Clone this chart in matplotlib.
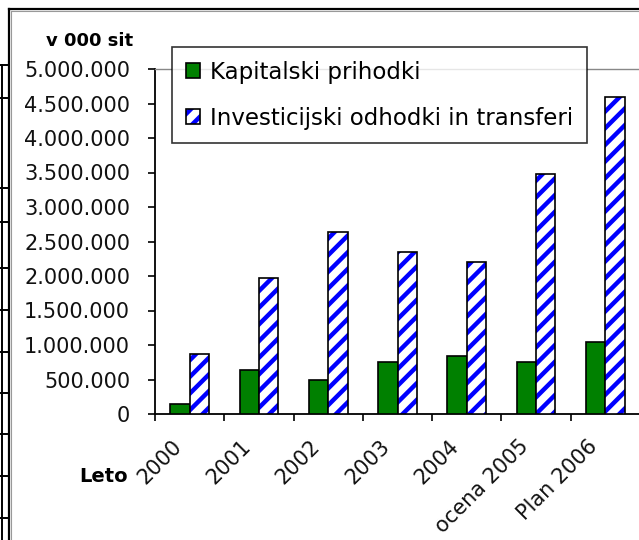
import matplotlib
matplotlib.use("Agg")
import matplotlib.pyplot as plt
from matplotlib.lines import Line2D
from matplotlib.legend_handler import HandlerTuple
import matplotlib.transforms as mtransforms
import numpy as np

# ---- data ----
categories = ["2000", "2001", "2002", "2003", "2004", "ocena 2005", "Plan 2006"]
kapitalski = [145000, 640000, 495000, 755000, 845000, 755000, 1045000]
investicijski = [870000, 1975000, 2640000, 2355000, 2205000, 3485000, 4590000]
series_names = ["Kapitalski prihodki", "Investicijski odhodki in transferi"]
y_ticks = list(range(0, 5000001, 500000))
unit_label = "v 000 sit"
x_title = "Leto"

plt.rcParams['font.family'] = ['DejaVu Sans']
plt.rcParams['hatch.linewidth'] = 3.2

W, H = 639, 540
fig = plt.figure(figsize=(W / 100, H / 100), dpi=100)
fig.patch.set_facecolor('white')

def fx(px):
    return px / W

def fy(py):
    return 1 - py / H

ax_left, ax_right, ax_top, ax_bottom = 155, 640, 69, 414
ax = fig.add_axes([fx(ax_left), fy(ax_bottom), fx(ax_right - ax_left), (ax_bottom - ax_top) / H])

x = np.arange(len(categories))
bw = 0.28
green = '#008000'
blue = '#0000FF'

b1 = ax.bar(x - 0.14, kapitalski, width=bw, color=green, edgecolor='black', linewidth=1.2, zorder=3)
b2 = ax.bar(x + 0.14, investicijski, width=bw, color='white', edgecolor=blue, hatch='//', linewidth=0, zorder=3)
b3 = ax.bar(x + 0.14, investicijski, width=bw, fill=False, edgecolor='black', linewidth=1.2, zorder=4)

ax.set_xlim(-0.5, len(categories) - 0.5)
ax.set_ylim(0, 5000000)

ax.set_yticks(y_ticks)
ax.set_yticklabels(['{:,}'.format(v).replace(',', '.') for v in y_ticks], fontsize=15, color='#111111')
ax.tick_params(axis='y', direction='out', length=5, width=1.2, pad=13, color='black')

ax.set_xticks(np.arange(len(categories) + 1) - 0.5)
ax.set_xticklabels([])
ax.tick_params(axis='x', direction='out', length=5, width=1.2, color='black')

# rotated category labels
offset = mtransforms.ScaledTranslation(-11 / 100, -29 / 100, fig.dpi_scale_trans)
trans = mtransforms.blended_transform_factory(ax.transData, ax.transAxes) + offset
for xi, lab in zip(x, categories):
    ax.text(xi, 0, lab, transform=trans, rotation=45, ha='right', va='center',
            rotation_mode='anchor', fontsize=15, color='#111111')

for s in ['left', 'bottom']:
    ax.spines[s].set_color('black')
    ax.spines[s].set_linewidth(1.3)
ax.spines['top'].set_color('#888888')
ax.spines['top'].set_linewidth(1.0)
ax.spines['right'].set_visible(False)

# legend
leg = ax.legend([b1, (b2, b3)], series_names,
                handler_map={tuple: HandlerTuple(ndivide=1, pad=0)},
                loc='upper left', bbox_to_anchor=(fx(172), fy(47)),
                bbox_transform=fig.transFigure, fontsize=16.5,
                frameon=True, fancybox=False, shadow=False, borderaxespad=0,
                borderpad=0.6, labelspacing=1.0, handlelength=0.6,
                handleheight=0.6, handletextpad=0.45)
leg.get_frame().set_edgecolor('black')
leg.get_frame().set_linewidth(1.2)
leg.set_zorder(10)

# axis captions
fig.text(fx(90), fy(41), unit_label, fontsize=13, fontweight='bold', ha='center', va='center')
fig.text(fx(79), fy(477), x_title, fontsize=14, fontweight='bold', ha='left', va='center')

# chart-area border and fragment of neighbouring table
fig.add_artist(Line2D([fx(9), fx(9)], [fy(9), fy(540)], transform=fig.transFigure, color='black', lw=1.6))
fig.add_artist(Line2D([fx(11), fx(11)], [fy(11), fy(540)], transform=fig.transFigure, color='#999999', lw=0.8))
fig.add_artist(Line2D([fx(9), fx(640)], [fy(9), fy(9)], transform=fig.transFigure, color='black', lw=1.6))
fig.add_artist(Line2D([fx(11), fx(640)], [fy(11), fy(11)], transform=fig.transFigure, color='#999999', lw=0.8))
fig.add_artist(Line2D([fx(1.5), fx(1.5)], [fy(65), fy(540)], transform=fig.transFigure, color='black', lw=1.4))
for yy in [65, 98, 188, 222, 268, 310, 352, 393, 434, 476, 518]:
    fig.add_artist(Line2D([fx(0), fx(8)], [fy(yy), fy(yy)], transform=fig.transFigure, color='black', lw=1.4))

fig.savefig('out.png', dpi=100, facecolor='white')
